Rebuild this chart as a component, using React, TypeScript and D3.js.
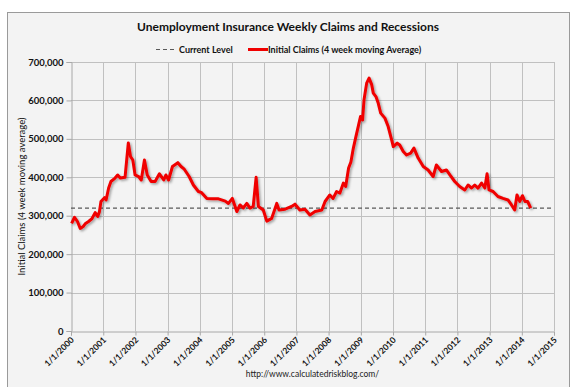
import React, { useRef, useEffect } from 'react';
import * as d3 from 'd3';

// weekly claims, 4 week moving average
const dates: string[] = [
  '2000-01-08', '2000-02-10', '2000-03-14', '2000-04-15', '2000-05-18', '2000-06-10', '2000-07-18',
  '2000-08-25', '2000-10-01', '2000-10-30', '2000-11-18', '2000-12-06', '2001-01-15', '2001-02-02',
  '2001-03-03', '2001-03-29', '2001-05-15', '2001-06-13', '2001-07-13', '2001-09-05', '2001-10-12',
  '2001-11-06', '2001-12-02', '2001-12-28', '2002-02-06', '2002-03-08', '2002-04-13', '2002-05-15',
  '2002-06-28', '2002-08-12', '2002-09-30', '2002-11-18', '2002-12-12', '2003-01-12', '2003-02-25',
  '2003-04-27', '2003-06-02', '2003-07-09', '2003-09-02', '2003-10-20', '2003-12-16', '2004-01-22',
  '2004-03-21', '2004-06-02', '2004-07-31', '2004-10-16', '2004-11-21', '2005-01-04', '2005-02-24',
  '2005-04-01', '2005-05-08', '2005-06-17', '2005-07-23', '2005-08-29', '2005-10-01', '2005-10-27',
  '2005-12-21', '2006-01-30', '2006-03-26', '2006-05-23', '2006-06-18', '2006-08-26', '2006-11-07',
  '2006-12-16', '2007-02-09', '2007-04-08', '2007-06-03', '2007-07-31', '2007-10-16', '2007-11-22',
  '2008-01-15', '2008-02-21', '2008-04-01', '2008-05-08', '2008-06-17', '2008-07-13', '2008-08-15',
  '2008-09-10', '2008-10-08', '2008-11-06', '2008-12-02', '2008-12-28', '2009-01-20', '2009-02-06',
  '2009-03-08', '2009-04-04', '2009-05-04', '2009-05-22', '2009-06-21', '2009-07-17', '2009-08-14',
  '2009-10-01', '2009-11-07', '2009-12-17', '2010-01-04', '2010-02-17', '2010-03-18', '2010-04-27',
  '2010-06-03', '2010-07-20', '2010-08-26', '2010-10-13', '2010-12-10', '2011-02-03', '2011-04-01',
  '2011-05-08', '2011-07-05', '2011-08-29', '2011-10-08', '2011-12-02', '2012-01-27', '2012-03-25',
  '2012-05-01', '2012-06-10', '2012-07-16', '2012-08-22', '2012-10-01', '2012-11-07', '2012-12-03',
  '2012-12-25', '2013-02-09', '2013-04-05', '2013-06-02', '2013-07-28', '2013-09-06', '2013-10-12',
  '2013-11-07', '2013-12-09', '2014-01-08', '2014-02-06', '2014-03-08', '2014-04-12'
];

const claims: number[] = [
  280000, 296000, 285000, 267000, 272000, 279000, 285000,
  292000, 308000, 298000, 310000, 337000, 347000, 341000,
  372000, 389000, 398000, 406000, 398000, 400000, 489000,
  454000, 445000, 406000, 402000, 393000, 445000, 406000,
  389000, 389000, 409000, 393000, 406000, 393000, 428000,
  438000, 428000, 421000, 402000, 380000, 363000, 360000,
  345000, 344000, 344000, 338000, 332000, 345000, 311000,
  328000, 320000, 332000, 320000, 324000, 400000, 324000,
  315000, 286000, 293000, 332000, 315000, 317000, 324000,
  330000, 315000, 317000, 302000, 311000, 315000, 337000,
  354000, 345000, 363000, 359000, 385000, 376000, 424000,
  440000, 476000, 506000, 532000, 558000, 549000, 602000,
  645000, 658000, 641000, 619000, 610000, 593000, 567000,
  554000, 532000, 497000, 480000, 489000, 484000, 467000,
  458000, 463000, 476000, 450000, 428000, 419000, 402000,
  432000, 415000, 419000, 406000, 389000, 376000, 367000,
  380000, 372000, 380000, 372000, 385000, 372000, 409000,
  367000, 363000, 350000, 345000, 341000, 328000, 315000,
  354000, 337000, 352000, 337000, 337000, 320000
];

const currentLevel = 320000;
const yTicks: number[] = [0, 100000, 200000, 300000, 400000, 500000, 600000, 700000];
const xYears: number[] = d3.range(2000, 2016);

const chartTitle = 'Unemployment Insurance Weekly Claims and Recessions';
const legendLabels: string[] = ['Current Level', 'Initial Claims (4 week moving Average)'];
const yTitle = 'Initial Claims (4 week moving average)';
const sourceText = 'http://www.calculatedriskblog.com/';

const W = 576;
const H = 387;
const margin = { top: 62, right: 22, bottom: 56, left: 71 };
const font = 'Lato, Carlito, "Noto Sans", sans-serif';

function ClaimsChart() {
  const ref = useRef<SVGSVGElement>(null);

  useEffect(() => {
    if (!ref.current) return;
    const svg = d3.select(ref.current);
    svg.selectAll('*').remove();

    const parse = d3.timeParse('%Y-%m-%d');
    const data = dates.map((d, i) => ({ date: parse(d) as Date, value: claims[i] }));

    const x = d3.scaleTime()
      .domain([new Date(2000, 0, 1), new Date(2015, 0, 1)])
      .range([margin.left, W - margin.right]);
    const y = d3.scaleLinear()
      .domain([0, 700000])
      .range([H - margin.bottom, margin.top]);

    // drop shadow for the red line
    const defs = svg.append('defs');
    const filt = defs.append('filter').attr('id', 'shadow')
      .attr('x', '-5%').attr('y', '-5%').attr('width', '110%').attr('height', '110%');
    filt.append('feDropShadow')
      .attr('dx', 1.5).attr('dy', 1.5).attr('stdDeviation', 1)
      .attr('flood-color', '#000').attr('flood-opacity', 0.35);

    svg.append('rect').attr('width', W).attr('height', H).attr('fill', '#ffffff');
    svg.append('rect')
      .attr('x', 7.5).attr('y', 12.5)
      .attr('width', 562).attr('height', 380)
      .attr('fill', '#f3f3f3').attr('stroke', '#9a9a9a');

    // grid
    const grid = svg.append('g').attr('stroke', '#c0c0c0').attr('stroke-width', 1);
    grid.selectAll('line.h').data(yTicks.slice(1)).join('line')
      .attr('class', 'h')
      .attr('x1', margin.left).attr('x2', W - margin.right)
      .attr('y1', d => Math.round(y(d)) + 0.5).attr('y2', d => Math.round(y(d)) + 0.5);
    grid.selectAll('line.v').data(xYears.slice(1)).join('line')
      .attr('class', 'v')
      .attr('y1', margin.top).attr('y2', H - margin.bottom)
      .attr('x1', d => Math.round(x(new Date(d, 0, 1))) + 0.5)
      .attr('x2', d => Math.round(x(new Date(d, 0, 1))) + 0.5);

    // y axis
    const yAxis = svg.append('g')
      .attr('transform', `translate(${margin.left + 0.5},0)`)
      .call(d3.axisLeft(y).tickValues(yTicks).tickSize(5).tickPadding(3)
        .tickFormat(d => d3.format(',')(d as number)));
    yAxis.select('.domain').attr('stroke', '#a8a8a8');
    yAxis.selectAll('.tick line').attr('stroke', '#a8a8a8');
    yAxis.selectAll('.tick text')
      .attr('font-family', font).attr('font-size', 9.5).attr('font-weight', 700).attr('fill', '#111');

    // x axis
    const xAxis = svg.append('g')
      .attr('transform', `translate(0,${H - margin.bottom + 0.5})`)
      .call(d3.axisBottom(x).tickValues(xYears.map(yr => new Date(yr, 0, 1))).tickSize(4)
        .tickFormat(d => d3.timeFormat('%-m/%-d/%Y')(d as Date)));
    xAxis.select('.domain').attr('stroke', '#a8a8a8');
    xAxis.selectAll('.tick line').attr('stroke', '#a8a8a8');
    xAxis.selectAll('.tick text')
      .attr('font-family', font).attr('font-size', 8.5).attr('font-weight', 700).attr('fill', '#111')
      .attr('text-anchor', 'end')
      .attr('dy', null).attr('y', 0)
      .attr('transform', 'translate(3,9) rotate(-45)');

    // current level
    svg.append('line')
      .attr('x1', margin.left).attr('x2', W - margin.right)
      .attr('y1', y(currentLevel)).attr('y2', y(currentLevel))
      .attr('stroke', '#595959').attr('stroke-width', 1.2).attr('stroke-dasharray', '4,3');

    // claims line
    const line = d3.line<{ date: Date; value: number }>()
      .x(d => x(d.date)).y(d => y(d.value));
    svg.append('path')
      .datum(data)
      .attr('d', line)
      .attr('fill', 'none')
      .attr('stroke', '#f00000')
      .attr('stroke-width', 3)
      .attr('stroke-linejoin', 'round')
      .attr('filter', 'url(#shadow)');

    // title
    svg.append('text')
      .attr('x', 288).attr('y', 31)
      .attr('text-anchor', 'middle')
      .attr('font-family', font).attr('font-size', 12).attr('font-weight', 700).attr('fill', '#111')
      .text(chartTitle);

    // legend
    const leg = svg.append('g').attr('font-family', font).attr('font-size', 9).attr('font-weight', 700).attr('fill', '#111');
    leg.append('line').attr('x1', 156).attr('x2', 176).attr('y1', 49.5).attr('y2', 49.5)
      .attr('stroke', '#595959').attr('stroke-width', 1.2).attr('stroke-dasharray', '4,3');
    leg.append('text').attr('x', 179).attr('y', 53).text(legendLabels[0]);
    leg.append('line').attr('x1', 248).attr('x2', 268).attr('y1', 49.5).attr('y2', 49.5)
      .attr('stroke', '#f00000').attr('stroke-width', 3);
    leg.append('text').attr('x', 268).attr('y', 53).text(legendLabels[1]);

    // y title
    svg.append('text')
      .attr('transform', `translate(25,${(margin.top + H - margin.bottom) / 2}) rotate(-90)`)
      .attr('text-anchor', 'middle')
      .attr('font-family', font).attr('font-size', 9.5).attr('fill', '#111')
      .text(yTitle);

    // source
    svg.append('text')
      .attr('x', (margin.left + W - margin.right) / 2).attr('y', 377)
      .attr('text-anchor', 'middle')
      .attr('font-family', font).attr('font-size', 8.5).attr('fill', '#222')
      .text(sourceText);
  }, []);

  return (
    <svg
      ref={ref}
      width={W}
      height={H}
      style={{ position: 'absolute', left: 0, top: 0, display: 'block' }}
    />
  );
}

export default function App() {
  return <ClaimsChart />;
}
